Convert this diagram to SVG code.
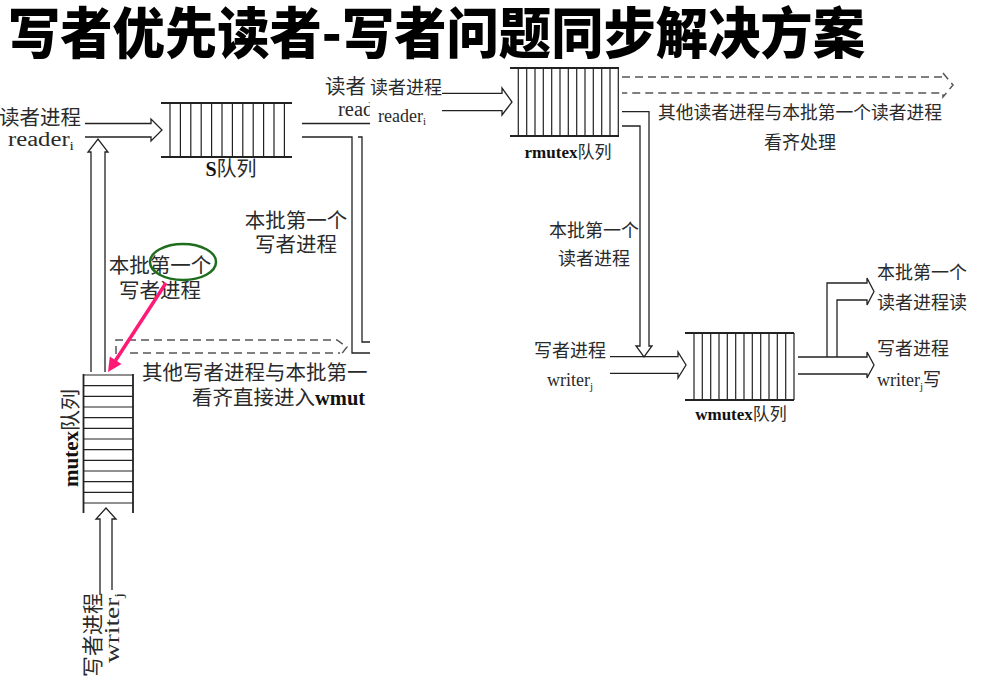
<svg xmlns="http://www.w3.org/2000/svg" width="1002" height="682" viewBox="0 0 1002 682">
<style>
.ln{fill:none;stroke:#222;stroke-width:1.3}
.qe{fill:none;stroke:#222;stroke-width:1.8}
.qv{fill:none;stroke:#222;stroke-width:1.2}
.ds{fill:none;stroke:#555;stroke-width:1.5;stroke-dasharray:8 5}
.t{font-family:"Noto Sans CJK SC","Liberation Serif",sans-serif;fill:#2a2a2a}
.l{font-family:"Liberation Serif","Noto Sans CJK SC",serif;fill:#2a2a2a}
.b{font-weight:bold;fill:#111}
.L{font-size:20.5px}
.R{font-size:18px}
</style>
<defs>
<clipPath id="leftclip"><rect x="0" y="60" width="370" height="622"/></clipPath>
</defs>
<rect width="1002" height="682" fill="#fff"/>
<g id="title">
<text x="8" y="53" font-family="'Noto Sans CJK SC',sans-serif" font-weight="900" font-size="55" fill="#000" textLength="857" lengthAdjust="spacingAndGlyphs">写者优先读者-写者问题同步解决方案</text>
</g>
<g id="left-figure" clip-path="url(#leftclip)">
<g id="s-queue">
<path class="qe" d="M161,103H292M161,157H292"/>
<path class="qv" d="M170,103V157M180.4,103V157M190.8,103V157M201.2,103V157M211.6,103V157M222,103V157M232.4,103V157M242.8,103V157M253.2,103V157M263.6,103V157M274,103V157M284.4,103V157"/>
<text class="t" x="231" y="176" text-anchor="middle" font-size="20"><tspan class="l b">S</tspan>队列</text>
</g>
<g id="mutex-queue">
<path class="qe" d="M83.5,374V513M133,374V513"/>
<path class="qv" d="M83.5,375H133M83.5,385.7H133M83.5,396.3H133M83.5,407H133M83.5,417.7H133M83.5,428.3H133M83.5,439H133M83.5,449.7H133M83.5,460.3H133M83.5,471H133M83.5,481.7H133M83.5,492.3H133M83.5,503H133"/>
<text class="t" transform="translate(78,438) rotate(-90)" text-anchor="middle" font-size="20" textLength="98" lengthAdjust="spacingAndGlyphs"><tspan class="l b">mutex</tspan>队列</text>
</g>
<g id="left-reader">
<text class="t L" x="81" y="125" text-anchor="end">读者进程</text>
<text class="l L" x="8" y="146" textLength="66" lengthAdjust="spacingAndGlyphs">reader<tspan font-size="13" dy="4">i</tspan></text>
</g>
<g id="left-writer">
<text class="t" transform="translate(100,593) rotate(-90)" text-anchor="end" font-size="21">写者进程</text>
<text class="l" transform="translate(119,593) rotate(-90)" text-anchor="end" font-size="21" textLength="70" lengthAdjust="spacingAndGlyphs">writer<tspan font-size="13" dy="4">j</tspan></text>
</g>
<g id="left-labels">
<text class="t L" x="160" y="273" text-anchor="middle">本批第一个</text>
<text class="t L" x="160" y="298" text-anchor="middle">写者进程</text>
<text class="t L" x="296" y="228" text-anchor="middle">本批第一个</text>
<text class="t L" x="296" y="252" text-anchor="middle">写者进程</text>
<text class="t L" x="142" y="380">其他写者进程与本批第一</text>
<text class="t L" x="192" y="405">看齐直接进入<tspan class="l b">wmut</tspan></text>
<text class="t L" x="325" y="94">读者</text>
<text class="l L" x="338" y="116">read</text>
</g>
<g id="left-connectors">
<path class="ln" d="M85,123.5H151V119L162,130L151,141V137H85"/>
<path class="ln" d="M91,372V152H88L98,139L108,152H105V372"/>
<path class="ln" d="M100,595V519H96L106,508L116,519H112V590"/>
<path class="ln" d="M302,123.5H370M302,137H352V353H370M358,137H362V342H370"/>
<path class="ds" d="M116,367V340H337L347,347L340,356M130,353H340"/>
<ellipse cx="183" cy="262" rx="33" ry="18" fill="none" stroke="#1e6e1e" stroke-width="2.5"/>
<line x1="166" y1="283" x2="115.5" y2="360.5" stroke="#ff1a75" stroke-width="3.5"/>
<polygon points="108,372 121.5,364.1 109.8,356.4" fill="#ff1a75"/>
</g>
</g>
<g id="right-figure">
<g id="rmutex-queue">
<path class="qe" d="M510,68H619M510,136H619"/>
<path class="qv" d="M518.3,68V136M526.7,68V136M535,68V136M543.3,68V136M551.7,68V136M560,68V136M568.3,68V136M576.7,68V136M585,68V136M593.3,68V136M601.7,68V136M610,68V136M618.3,68V136"/>
<text class="t" x="568" y="158" text-anchor="middle" font-size="17"><tspan class="l b">rmutex</tspan>队列</text>
</g>
<g id="wmutex-queue">
<path class="qe" d="M685,333H794M685,400H794"/>
<path class="qv" d="M694,333V400M702.3,333V400M710.7,333V400M719,333V400M727.3,333V400M735.7,333V400M744,333V400M752.3,333V400M760.7,333V400M769,333V400M777.3,333V400M785.7,333V400M794,333V400"/>
<text class="t" x="741" y="420" text-anchor="middle" font-size="17"><tspan class="l b">wmutex</tspan>队列</text>
</g>
<g id="right-reader">
<text class="t R" x="370" y="94">读者进程</text>
<text class="l R" x="378" y="122">reader<tspan font-size="11" dy="3">i</tspan></text>
</g>
<g id="right-writer">
<text class="t R" x="570" y="357" text-anchor="middle">写者进程</text>
<text class="l R" x="570" y="386" text-anchor="middle">writer<tspan font-size="11" dy="4">j</tspan></text>
</g>
<g id="right-labels">
<text class="t" x="800" y="119" text-anchor="middle" font-size="17.75">其他读者进程与本批第一个读者进程</text>
<text class="t R" x="800" y="149" text-anchor="middle">看齐处理</text>
<text class="t R" x="594" y="237" text-anchor="middle">本批第一个</text>
<text class="t R" x="594" y="265" text-anchor="middle">读者进程</text>
</g>
<g id="out-reader">
<text class="t R" x="877" y="279">本批第一个</text>
<text class="t R" x="877" y="309">读者进程读</text>
</g>
<g id="out-writer">
<text class="t R" x="877" y="355">写者进程</text>
<text class="l R" x="877" y="386">writer<tspan font-size="11" dy="4">j</tspan><tspan class="t" dy="-4" font-size="18">写</tspan></text>
</g>
<g id="connectors">
<path class="ln" d="M442,93.3H502V88L512,102L502,115V110.7H442"/>
<path class="ds" d="M622,77H943V73L953,85L943,97V93H622"/>
<path class="ln" d="M622,111.7H649V346H652L644,357L636,346H640V126H622"/>
<path class="ln" d="M610,356.7H678V352L686,365L678,378V373.3H610"/>
<path class="ln" d="M798,357H867V352L874,365L867,378V374H798"/>
<path class="ln" d="M827,357V283H867V278L874,291.5L867,305V300H837V357"/>
</g>
</g>
</svg>
